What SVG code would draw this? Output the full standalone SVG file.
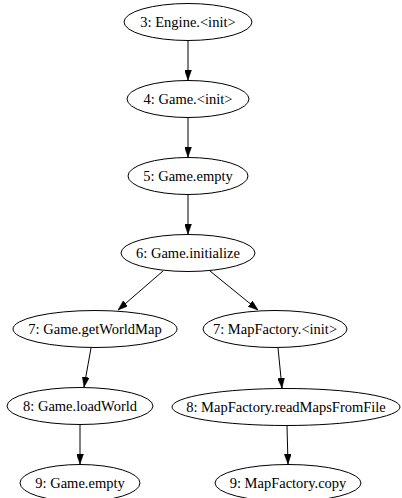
<svg xmlns="http://www.w3.org/2000/svg" width="402" height="498" viewBox="0 0 402 498">
<style>
.n ellipse{fill:#fff;stroke:#000;stroke-width:1}
.n text{font-family:"Liberation Serif","Times New Roman",serif;font-size:14.5px;text-anchor:middle;fill:#000}
.e line{stroke:#000;stroke-width:1}
</style>
<defs>
<marker id="ah" viewBox="0 0 10 7" refX="10" refY="3.5" markerWidth="10" markerHeight="7" markerUnits="userSpaceOnUse" orient="auto">
<path d="M0,0 L10,3.5 L0,7 Z" fill="#000" stroke="#000" stroke-width="0.5"/>
</marker>
</defs>
<rect width="402" height="498" fill="#fff"/>
<g id="edges" class="e">
<line x1="188" y1="41" x2="188" y2="80" marker-end="url(#ah)"/>
<line x1="188" y1="118" x2="188" y2="157" marker-end="url(#ah)"/>
<line x1="188" y1="195" x2="188" y2="234" marker-end="url(#ah)"/>
<line x1="163" y1="271" x2="118" y2="310" marker-end="url(#ah)"/>
<line x1="210" y1="271" x2="258" y2="310" marker-end="url(#ah)"/>
<line x1="91" y1="348" x2="84" y2="387" marker-end="url(#ah)"/>
<line x1="278" y1="348" x2="282" y2="388" marker-end="url(#ah)"/>
<line x1="80" y1="425" x2="80" y2="464" marker-end="url(#ah)"/>
<line x1="287" y1="426" x2="288" y2="464" marker-end="url(#ah)"/>
</g>
<g id="n3" class="n"><ellipse cx="188" cy="22" rx="64" ry="18.5"/><text x="188" y="27">3: Engine.&lt;init&gt;</text></g>
<g id="n4" class="n"><ellipse cx="188" cy="99" rx="61" ry="18.5"/><text x="188" y="104">4: Game.&lt;init&gt;</text></g>
<g id="n5" class="n"><ellipse cx="188" cy="176" rx="60" ry="18.5"/><text x="188" y="181">5: Game.empty</text></g>
<g id="n6" class="n"><ellipse cx="188" cy="253" rx="67" ry="18.5"/><text x="188" y="258">6: Game.initialize</text></g>
<g id="n7a" class="n"><ellipse cx="95" cy="329" rx="82" ry="18.5"/><text x="95" y="334">7: Game.getWorldMap</text></g>
<g id="n7b" class="n"><ellipse cx="275" cy="329" rx="72" ry="18.5"/><text x="275" y="334">7: MapFactory.&lt;init&gt;</text></g>
<g id="n8a" class="n"><ellipse cx="80" cy="406" rx="73" ry="18.5"/><text x="80" y="411">8: Game.loadWorld</text></g>
<g id="n8b" class="n"><ellipse cx="286" cy="407" rx="114" ry="18.5"/><text x="286" y="412">8: MapFactory.readMapsFromFile</text></g>
<g id="n9a" class="n"><ellipse cx="80" cy="483" rx="60" ry="18.5"/><text x="80" y="488">9: Game.empty</text></g>
<g id="n9b" class="n"><ellipse cx="288" cy="483" rx="73" ry="18.5"/><text x="288" y="488">9: MapFactory.copy</text></g>
</svg>
